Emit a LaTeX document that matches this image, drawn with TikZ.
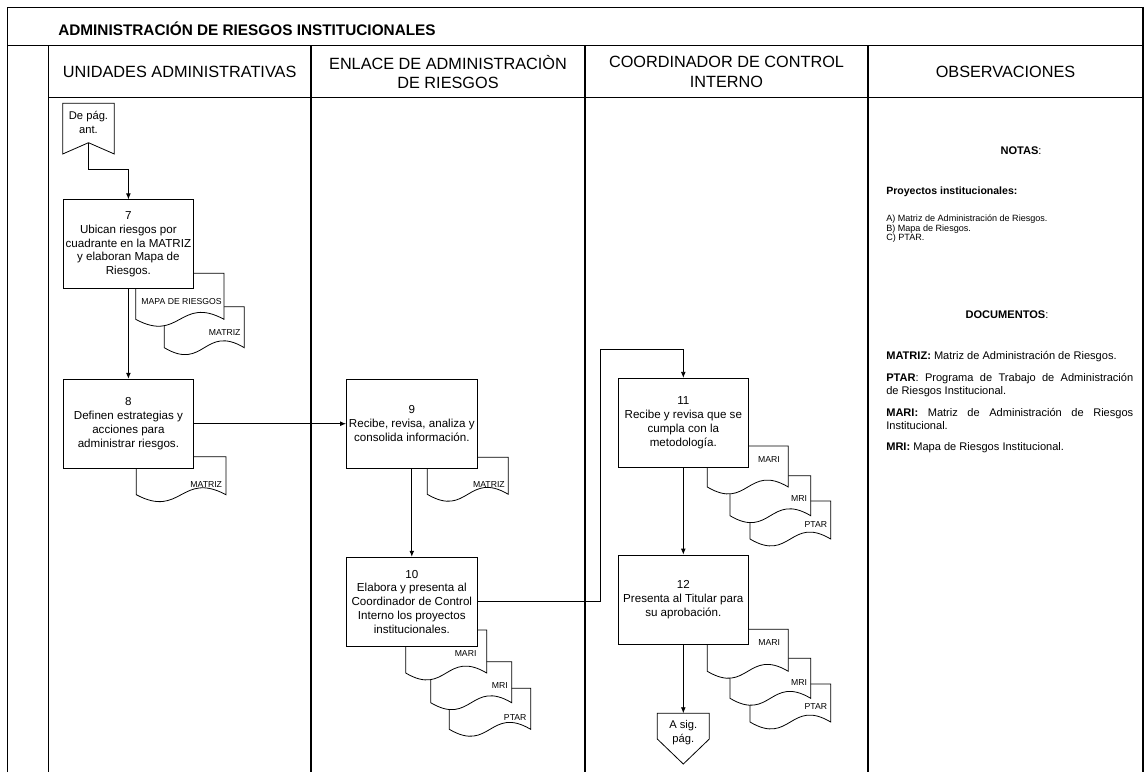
\documentclass[tikz,border=0pt]{standalone}
\usepackage{fontspec}
\setmainfont{Liberation Sans}
\usetikzlibrary{arrows.meta}

\begin{document}
\begin{tikzpicture}[x=0.75pt,y=0.75pt,yscale=-1,xscale=1,
    linea/.style={line width=0.9pt},
    caja/.style={draw, fill=white, line width=0.6pt, minimum width=97.95pt, minimum height=66.75pt, inner sep=1pt, align=center, font=\fontsize{8.7}{10.3}\selectfont},
    encabezado/.style={align=center, inner sep=0pt, font=\fontsize{12.2}{14.8}\selectfont},
    conector/.style={align=center, inner sep=0pt, font=\fontsize{8.4}{10}\selectfont},
    flecha/.style={line width=0.6pt, -{Latex[length=4.5pt,width=3.6pt]}},
    etiqueta/.style={anchor=east, inner sep=0pt, font=\fontsize{6.5}{7}\selectfont},
    nota/.style={anchor=north west, inner sep=0pt, text width=185.25pt, align=justify, font=\fontsize{8.3}{9.75}\selectfont},
    % inside a pic the y axis points up again
    pics/documento/.style n args={5}{code={
        \draw[fill=white, line width=0.6pt] (0,0) -- (#1,0) -- (#1,-#2) .. controls ({0.5*#1},{-#2+24}) and ({0.5*#1},{-#2-24}) .. (0,-#2) -- cycle;
        \node[etiqueta] at (#4,-#5) {#3};
    }}
]
\useasboundingbox (0,0) rectangle (1144,772);

    %Frame
    \draw[linea] (7.3,772) -- (7.3,7.3) -- (1143,7.3) -- (1143,772);
    \draw[linea] (7.3,45.7) -- (1143,45.7);
    \draw[linea] (48.3,97.7) -- (1143,97.7);
    %Lanes
    \draw[linea] (48.3,45.7) -- (48.3,772);
    \draw[linea] (311,45.7) -- (311,772);
    \draw[linea] (585,45.7) -- (585,772);
    \draw[linea] (868,45.7) -- (868,772);

    % Title and headers
    \node[anchor=base west, inner sep=0pt, font=\bfseries\fontsize{11.5}{14}\selectfont] (titulo) at (58,35) {ADMINISTRACIÓN DE RIESGOS INSTITUCIONALES};
    \node[encabezado] (h1) at (179.6,72) {UNIDADES ADMINISTRATIVAS};
    \node[encabezado] (h2) at (448,72) {ENLACE DE ADMINISTRACIÒN\\DE RIESGOS};
    \node[encabezado] (h3) at (726.5,72) {COORDINADOR DE CONTROL\\INTERNO};
    \node[encabezado] (h4) at (1005.5,72) {OBSERVACIONES};

    %Shape: off-page connector in
    \draw[line width=0.6pt] (62.7,103.3) -- (114.3,103.3) -- (114.3,154) -- (88.5,142.7) -- (62.7,154) -- cycle;
    \node[conector] (depag) at (88.5,122.5) {De pág.\\ant.};
    \coordinate (depag-s) at (88.5,142.7);
    \coordinate (q1) at (88.5,169.3);

    %Documents
    \pic at (164.3,306.7) {documento={80}{41}{MATRIZ}{76.5}{26}};
    \pic at (135.7,273.3) {documento={88.3}{46}{MAPA DE RIESGOS}{86.3}{28}};
    \pic at (136.3,456.7) {documento={89.7}{38}{MATRIZ}{86}{28}};
    \pic at (427.3,457.3) {documento={81}{37}{MATRIZ}{77.7}{27}};
    \pic at (449.3,688.3) {documento={81.4}{41}{PTAR}{77.4}{29.4}};
    \pic at (430.7,661.7) {documento={81}{41}{MRI}{77.3}{24.3}};
    \pic at (405.7,630) {documento={81}{43}{MARI}{71}{24}};
    \pic at (750,501) {documento={80.7}{38}{PTAR}{77.3}{23.3}};
    \pic at (730,475.7) {documento={80.7}{40}{MRI}{77.3}{22.6}};
    \pic at (707.3,446) {documento={81}{41}{MARI}{72.7}{13.3}};
    \pic at (750,684) {documento={80.7}{38}{PTAR}{77.3}{22.7}};
    \pic at (730,658.3) {documento={80.7}{40}{MRI}{77.3}{24}};
    \pic at (707.3,629.3) {documento={81}{42}{MARI}{73}{13.3}};

    %Steps
    \node[caja] (p7) at (128.4,244.3) {7\\Ubican riesgos por\\cuadrante en la MATRIZ\\y elaboran Mapa de\\Riesgos.};
    \node[caja] (p8) at (128.4,423.7) {8\\Definen estrategias y\\acciones para\\administrar riesgos.};
    \node[caja] (p9) at (411.8,423.7) {9\\Recibe, revisa, analiza y\\consolida información.};
    \node[caja] (p10) at (411.8,601.7) {10\\Elabora y presenta al\\Coordinador de Control\\Interno los proyectos\\institucionales.};
    \node[caja] (p11) at (683.3,422.8) {11\\Recibe y revisa que se\\cumpla con la\\metodología.};
    \node[caja] (p12) at (683.3,599.5) {12\\Presenta al Titular para\\su aprobación.};

    %Shape: off-page connector out
    \draw[line width=0.6pt] (657.3,713.3) -- (709.3,713.3) -- (709.3,739) -- (683.3,764) -- (657.3,739) -- cycle;
    \node[conector] (asig) at (683.3,732.5) {A sig.\\pág.};
    \coordinate (asig-n) at (683.3,713.3);
    \coordinate (q2) at (600.7,349);

    %Connectors
    \draw[flecha] (depag-s) -- (q1) -| (p7.north);
    \draw[flecha] (p7) -- (p8);
    \draw[flecha] (p8) -- (p9);
    \draw[flecha] (p9) -- (p10);
    \draw[flecha] (p10.east) -| (q2) -| (p11.north);
    \draw[flecha] (p11) -- (p12);
    \draw[flecha] (p12) -- (asig-n);

    % Text Node: notes
    \node[inner sep=0pt, font=\fontsize{8.3}{9.75}\selectfont] (notas) at (1021,151) {\textbf{NOTAS}:};
    \node[anchor=west, inner sep=0pt, font=\bfseries\fontsize{7.9}{9.5}\selectfont] (proy) at (886,192) {Proyectos institucionales:};
    \node[anchor=north west, inner sep=0pt, align=left, font=\fontsize{6.8}{7.2}\selectfont] (lista) at (886,214.5) {A) Matriz de Administración de Riesgos.\\B) Mapa de Riesgos.\\C) PTAR.};
    \node[inner sep=0pt, font=\fontsize{8.3}{9.75}\selectfont] (docs) at (1007,315) {\textbf{DOCUMENTOS}:};
    \node[nota] (d1) at (886,351) {\textbf{MATRIZ:} Matriz de Administración de Riesgos.};
    \node[nota] (d2) at (886,373) {\textbf{PTAR}: Programa de Trabajo de Administración\linebreak de Riesgos Institucional.};
    \node[nota] (d3) at (886,408) {\textbf{MARI:} Matriz de Administración de Riesgos\linebreak Institucional.};
    \node[nota] (d4) at (886,442) {\textbf{MRI:} Mapa de Riesgos Institucional.};

\end{tikzpicture}
\end{document}
